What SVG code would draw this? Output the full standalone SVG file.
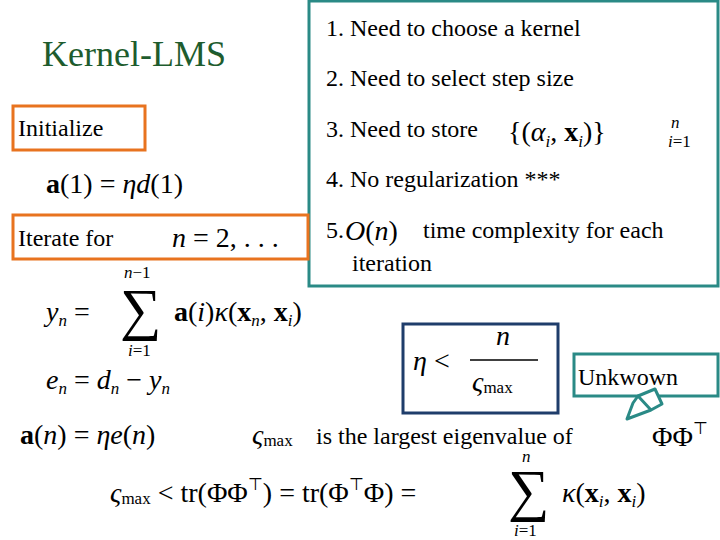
<svg xmlns="http://www.w3.org/2000/svg" width="720" height="540" viewBox="0 0 720 540">
<style>
.t{font-size:24px;fill:#000}
.m{font-size:28px;fill:#000}
.i{font-style:italic}
.b{font-weight:bold}
.s{font-size:17px}
.box{fill:none;stroke-width:3}
</style>
<rect width="720" height="540" fill="#fff"/>
<g font-family="'Liberation Serif', 'Times New Roman', serif">
<g id="title"><text x="42" y="66" font-size="36" fill="#1e5c2e">Kernel-LMS</text></g>
<g id="notes">
<rect x="309" y="1" width="409" height="285" class="box" stroke="#2a8a86"/>
<text x="326" y="36" class="t">1. Need to choose a kernel</text>
<text x="326" y="86" class="t">2. Need to select step size</text>
<text x="326" y="137" class="t">3. Need to store</text>
<text x="508" y="141" class="m">{(<tspan class="i">α</tspan><tspan class="i s" dy="6">i</tspan><tspan dy="-6">, </tspan><tspan class="b">x</tspan><tspan class="i s" dy="6">i</tspan><tspan dy="-6">)}</tspan></text>
<text x="671" y="128" class="i s">n</text><text x="668" y="147" class="s"><tspan class="i">i</tspan>=1</text>
<text x="326" y="187" class="t">4. No regularization ***</text>
<text x="326" y="238" class="t">5.</text>
<text x="345" y="240" class="m"><tspan class="i">O</tspan>(<tspan class="i">n</tspan>)</text>
<text x="423" y="238" class="t">time complexity for each</text>
<text x="352" y="271" class="t">iteration</text>
</g>
<g id="init">
<rect x="13" y="106" width="132" height="44" class="box" stroke="#e8731f"/>
<text x="18" y="136" class="t">Initialize</text>
</g>
<text x="46" y="193" class="m"><tspan class="b">a</tspan>(1) = <tspan class="i">ηd</tspan>(1)</text>
<g id="iter">
<rect x="13" y="215" width="295" height="44" class="box" stroke="#e8731f"/>
<text x="18" y="246" class="t">Iterate for</text>
<text x="172" y="247" class="m"><tspan class="i">n</tspan> = 2, . . .</text>
</g>
<text x="124" y="278" class="s"><tspan class="i">n</tspan>−1</text>
<text x="46" y="321" class="m"><tspan class="i">y</tspan><tspan class="i s" dy="5">n</tspan><tspan dy="-5"> = </tspan></text>
<text x="120" y="329" font-size="58">∑</text>
<text x="174" y="321" class="m"><tspan class="b">a</tspan>(<tspan class="i">i</tspan>)<tspan class="i">κ</tspan>(<tspan class="b">x</tspan><tspan class="i s" dy="5">n</tspan><tspan dy="-5">, </tspan><tspan class="b">x</tspan><tspan class="i s" dy="5">i</tspan><tspan dy="-5">)</tspan></text>
<text x="128" y="356" class="s"><tspan class="i">i</tspan>=1</text>
<text x="46" y="389" class="m"><tspan class="i">e</tspan><tspan class="i s" dy="5">n</tspan><tspan dy="-5"> = </tspan><tspan class="i">d</tspan><tspan class="i s" dy="5">n</tspan><tspan dy="-5"> − </tspan><tspan class="i">y</tspan><tspan class="i s" dy="5">n</tspan></text>
<text x="20" y="444" class="m"><tspan class="b">a</tspan>(<tspan class="i">n</tspan>) = <tspan class="i">ηe</tspan>(<tspan class="i">n</tspan>)</text>
<g id="bound">
<rect x="403" y="324" width="155" height="89" class="box" stroke="#1f3d6b"/>
<text x="413" y="370" class="m"><tspan class="i">η</tspan> &lt;</text>
<line x1="470" y1="360" x2="538" y2="360" stroke="#000" stroke-width="1.5"/>
<text x="496" y="345" class="m i">n</text>
<text x="472" y="391" class="m"><tspan class="i">ς</tspan><tspan class="s" dy="2">max</tspan></text>
</g>
<text x="252" y="444" class="m"><tspan class="i">ς</tspan><tspan class="s" dy="2">max</tspan></text>
<text x="316" y="444" class="t">is the largest eigenvalue of</text>
<text x="652" y="446" class="m">ΦΦ<tspan class="s" dy="-12">⊤</tspan></text>
<g id="unk">
<rect x="574" y="354" width="144" height="42" class="box" stroke="#2a8a86"/>
<text x="578" y="385" class="t">Unkwown</text>
</g>
<text x="110" y="502" class="m"><tspan class="i">ς</tspan><tspan class="s" dy="2">max</tspan><tspan dy="-2"> &lt; tr(ΦΦ</tspan><tspan class="s" dy="-12">⊤</tspan><tspan dy="12">) = tr(Φ</tspan><tspan class="s" dy="-12">⊤</tspan><tspan dy="12">Φ) =</tspan></text>
<text x="508" y="510" font-size="58">∑</text>
<text x="522" y="462" class="i s">n</text>
<text x="514" y="536" class="s"><tspan class="i">i</tspan>=1</text>
<text x="562" y="502" class="m"><tspan class="i">κ</tspan>(<tspan class="b">x</tspan><tspan class="i s" dy="5">i</tspan><tspan dy="-5">, </tspan><tspan class="b">x</tspan><tspan class="i s" dy="5">i</tspan><tspan dy="-5">)</tspan></text>
</g>
<g id="connectors">
<path d="M638 396 L655 389 L662 404 L651 410 L627 419 L633 403 Z M638 396 L651 410" fill="#fff" stroke="#2a8a86" stroke-width="3" stroke-linejoin="round"/>
</g>
</svg>
